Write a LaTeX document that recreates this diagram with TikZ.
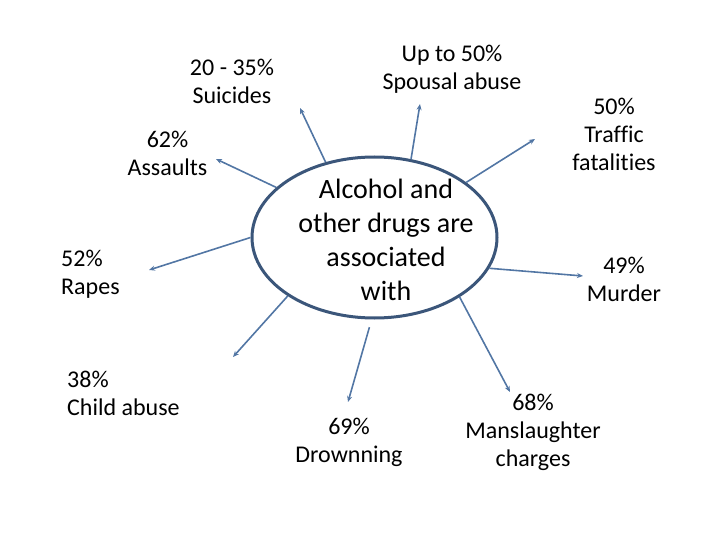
\documentclass[tikz,border=0pt]{standalone}
\usepackage{fontspec}
\setmainfont{Carlito}[Ligatures=CommonOff]
\usetikzlibrary{arrows.meta,shapes.geometric}
\definecolor{rimblue}{RGB}{59,86,122}
\definecolor{spokeblue}{RGB}{82,118,164}

\begin{document}
\begin{tikzpicture}[x=1pt, y=-1pt, >={Stealth[length=6pt, width=5pt]},
    hub/.style={draw=rimblue, line width=3pt, ellipse, minimum width=245pt, minimum height=161pt, inner sep=0pt},
    lbl/.style={inner sep=0pt, font=\fontsize{24}{28}\selectfont, align=center},
    spoke/.style={->, draw=spokeblue, line width=1.6pt}]
  \useasboundingbox (0,0) rectangle (720,540);
  % centre
  \node[hub] (hub) at (374.5,237.5) {};
  \node[inner sep=0pt, font=\fontsize{28}{34}\selectfont, align=center] (hubtxt) at (386,240)
       {Alcohol and\\other drugs are\\associated\\with};
  % labels
  \node[lbl] (suic) at (232,81) {20 - 35\%\\Suicides};
  \node[lbl] (spous) at (452,69) {Up to 50\%\\Spousal abuse};
  \node[lbl] (assault) at (167.5,153) {62\%\\Assaults};
  \node[lbl, align=left, anchor=west] (rape) at (61,274) {52\%\\Rapes};
  \node[lbl, align=left, anchor=west] (child) at (67,393) {38\%\\Child abuse};
  \node[lbl] (traffic) at (614,134) {50\%\\Traffic\\fatalities};
  \node[lbl] (murder) at (624,279) {49\%\\Murder};
  \node[lbl] (drown) at (349,442) {69\%\\Drownning};
  \node[lbl] (mansl) at (533,432) {68\%\\Manslaughter\\charges};
  % arrow tips
  \coordinate (suicT) at (300,108);
  \coordinate (spousT) at (420,104);
  \coordinate (assaultT) at (216,159);
  \coordinate (rapeT) at (149,270);
  \coordinate (childT) at (233,357);
  \coordinate (trafficT) at (535,139);
  \coordinate (murderT) at (583,276);
  \coordinate (manslT) at (510,392);
  \coordinate (drownT) at (348,402);
  % spokes
  \foreach \a/\t in {123/suicT, 65/spousT, 153/assaultT, 180/rapeT, 214/childT,
                     31/trafficT, 345/murderT, 325/manslT}
    \draw[spoke] (hub.\a) -- (\t);
  \draw[spoke, shorten <=8pt] (hub.268) -- (drownT);
\end{tikzpicture}
\end{document}
